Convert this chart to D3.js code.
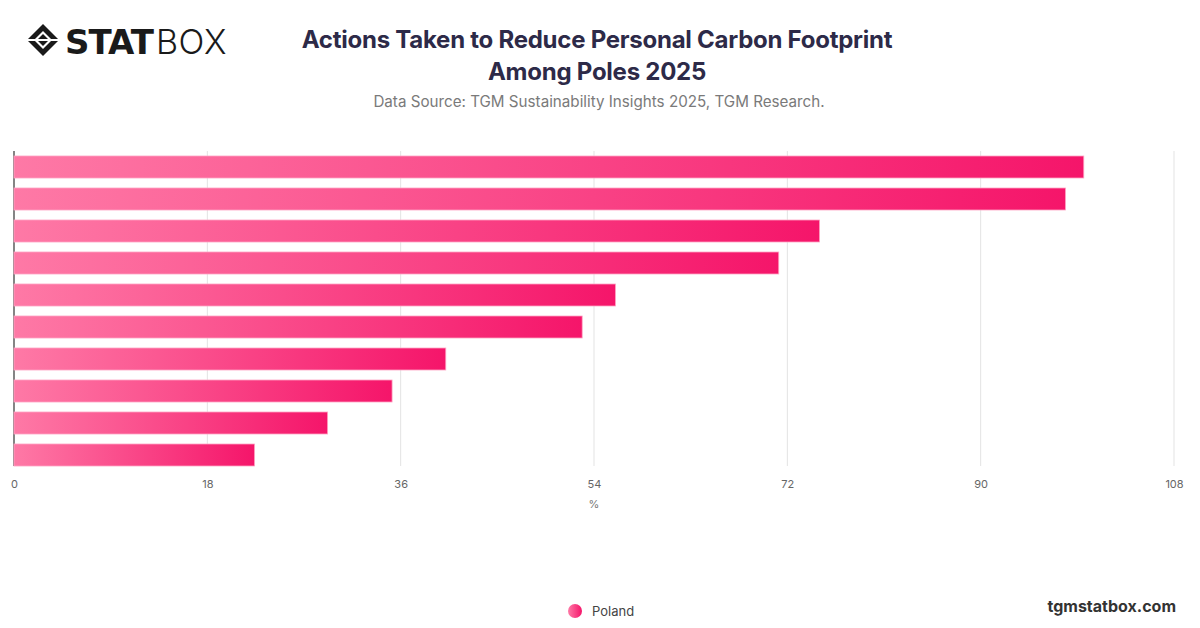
<!DOCTYPE html>
<html>
<head>
<meta charset="utf-8">
<script src="https://cdn.jsdelivr.net/npm/d3@7"></script>
<style>
  html, body { margin: 0; padding: 0; background: #fff; }
  svg { display: block; font-family: Inter, "Noto Sans", sans-serif; }
</style>
</head>
<body>
<svg id="chart" width="1200" height="628"></svg>
<script>
const categories = [
  "Action 1", "Action 2", "Action 3", "Action 4", "Action 5",
  "Action 6", "Action 7", "Action 8", "Action 9", "Action 10"
];
const values = [99.6, 97.9, 75.0, 71.2, 56.0, 52.9, 40.2, 35.2, 29.2, 22.4];
const tickValues = [0, 18, 36, 54, 72, 90, 108];
const seriesName = "Poland";

const svg = d3.select("#chart");
const W = 1200;
const plotTop = 151, plotBottom = 466;

const defs = svg.append("defs");
const grad = defs.append("linearGradient").attr("id", "barGrad")
  .attr("x1", "0%").attr("x2", "100%").attr("y1", "0%").attr("y2", "0%");
grad.append("stop").attr("offset", "0%").attr("stop-color", "#fe79a6");
grad.append("stop").attr("offset", "100%").attr("stop-color", "#f5156a");
const rgrad = defs.append("linearGradient").attr("id", "legGrad")
  .attr("x1", "0%").attr("x2", "100%").attr("y1", "0%").attr("y2", "0%");
rgrad.append("stop").attr("offset", "0%").attr("stop-color", "#fe79a6");
rgrad.append("stop").attr("offset", "100%").attr("stop-color", "#f5156a");

const x = d3.scaleLinear().domain([0, 108]).range([14, 1174]);
const y = d3.scaleBand().domain(categories).range([148, 474]).paddingInner(0.3125).paddingOuter(0.25);

// gridlines
svg.append("g").selectAll("line").data(tickValues.filter(d => d > 0)).join("line")
  .attr("x1", d => x(d)).attr("x2", d => x(d))
  .attr("y1", plotTop).attr("y2", plotBottom)
  .attr("stroke", "#e3e3e3").attr("stroke-width", 1);

// y axis line
svg.append("line")
  .attr("x1", x(0)).attr("x2", x(0))
  .attr("y1", plotTop).attr("y2", plotBottom)
  .attr("stroke", "#333").attr("stroke-width", 1.2);

// bars
svg.append("g").selectAll("rect").data(categories).join("rect")
  .attr("x", x(0))
  .attr("y", d => y(d))
  .attr("width", (d, i) => x(values[i]) - x(0))
  .attr("height", y.bandwidth())
  .attr("fill", "url(#barGrad)")
  .attr("stroke", "#ffa3c3").attr("stroke-width", 0.8);

// x axis
const xAxis = d3.axisBottom(x).tickValues(tickValues).tickSize(0).tickPadding(14);
const gx = svg.append("g").attr("transform", `translate(0,${plotBottom})`).call(xAxis);
gx.select(".domain").remove();
gx.selectAll("text").attr("fill", "#666").style("font-size", "11px").style("font-family", "Inter, sans-serif");

svg.append("text").attr("x", x(54)).attr("y", 508).attr("text-anchor", "middle")
  .attr("fill", "#777").style("font-size", "11px").text("%");

// title
svg.append("text").attr("x", 597).attr("y", 48).attr("text-anchor", "middle")
  .attr("fill", "#2d2a48").style("font-size", "24px").style("font-weight", "700")
  .style("letter-spacing", "-0.25px")
  .text("Actions Taken to Reduce Personal Carbon Footprint");
svg.append("text").attr("x", 597).attr("y", 80).attr("text-anchor", "middle")
  .attr("fill", "#2d2a48").style("font-size", "24px").style("font-weight", "700")
  .style("letter-spacing", "-0.25px")
  .text("Among Poles 2025");
svg.append("text").attr("x", 599).attr("y", 107).attr("text-anchor", "middle")
  .attr("fill", "#7a7a7a").style("font-size", "15.2px")
  .text("Data Source: TGM Sustainability Insights 2025, TGM Research.");

// logo
const logo = svg.append("g").attr("transform", "translate(27,24)");
logo.append("path").attr("d", "M16,0 L32,16 L16,32 L0,16 Z").attr("fill", "#1a1a1a");
logo.append("path").attr("d", "M16,7 L25,16 L16,25 L7,16 Z").attr("fill", "#fff");
logo.append("path").attr("d", "M16,10 L22,16 L16,22 L10,16 Z").attr("fill", "#1a1a1a");
logo.append("line").attr("x1", 0).attr("y1", 16).attr("x2", 32).attr("y2", 16).attr("stroke", "#fff").attr("stroke-width", 2);
logo.append("text").attr("x", 38).attr("y", 30).attr("fill", "#1a1a1a")
  .style("font-family", "'DejaVu Sans', sans-serif").style("font-size", "34px").style("font-weight", "900")
  .style("letter-spacing", "-1px")
  .text("STAT");
logo.append("text").attr("x", 129).attr("y", 30).attr("fill", "#1a1a1a")
  .style("font-family", "Inter, sans-serif").style("font-size", "34px").style("font-weight", "300")
  .style("letter-spacing", "0.5px")
  .text("BOX");

// legend
svg.append("circle").attr("cx", 575).attr("cy", 611).attr("r", 7).attr("fill", "url(#legGrad)");
svg.append("text").attr("x", 592).attr("y", 616).attr("fill", "#444").style("font-size", "13px").text(seriesName);

svg.append("text").attr("x", 1176).attr("y", 612).attr("text-anchor", "end")
  .attr("fill", "#333").style("font-size", "16px").style("font-weight", "700")
  .text("tgmstatbox.com");
</script>
</body>
</html>
